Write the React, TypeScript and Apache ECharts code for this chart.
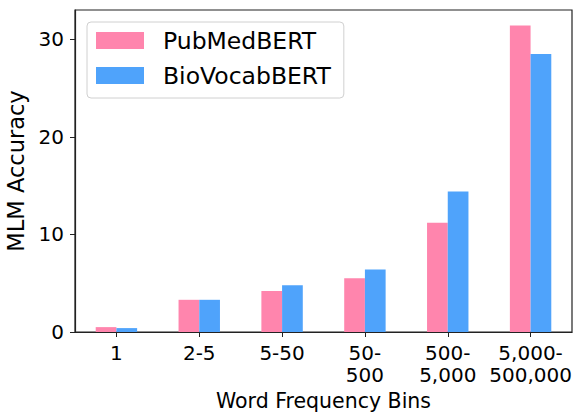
import React, { useEffect, useRef } from "react";
import * as echarts from "echarts";

const categories = ["1", "2-5", "5-50", "50-\n500", "500-\n5,000", "5,000-\n500,000"];
const pubMedBERT = [0.5, 3.3, 4.2, 5.5, 11.2, 31.4];
const bioVocabBERT = [0.4, 3.3, 4.8, 6.4, 14.4, 28.5];
const yTicks = [0, 10, 20, 30];

const FONT = "DejaVu Sans";

export default function App() {
  const ref = useRef<HTMLDivElement>(null);
  useEffect(() => {
    if (!ref.current) return;
    const chart = echarts.init(ref.current, null, { renderer: "svg" });
    chart.setOption({
      animation: false,
      textStyle: { fontFamily: FONT },
      grid: {
        left: 75,
        right: 4,
        top: 10,
        bottom: 80,
        outerBoundsMode: "none",
        containLabel: false,
        show: true,
        borderColor: "#222",
        borderWidth: 1.2,
        backgroundColor: "transparent",
      },
      legend: {
        orient: "vertical",
        left: 87,
        top: 22,
        padding: [6.5, 13, 10.5, 9],
        itemWidth: 48,
        itemHeight: 17,
        itemGap: 11,
        borderColor: "#d0d0d0",
        borderWidth: 1,
        borderRadius: 4,
        backgroundColor: "#fff",
        icon: "rect",
        textStyle: {
          fontFamily: FONT,
          fontSize: 23.5,
          lineHeight: 24,
          color: "#000",
          padding: [0, 0, 0, 14],
        },
        data: ["PubMedBERT", "BioVocabBERT"],
      },
      xAxis: {
        type: "category",
        data: categories,
        name: "Word Frequency Bins",
        nameLocation: "middle",
        nameGap: 58,
        nameTextStyle: { fontFamily: FONT, fontSize: 20.5, color: "#000" },
        axisLine: { show: true, lineStyle: { color: "#222", width: 1.2 } },
        axisTick: { show: true, alignWithLabel: true, length: 5, lineStyle: { color: "#222" } },
        axisLabel: {
          fontFamily: FONT,
          fontSize: 20,
          color: "#000",
          margin: 10,
          lineHeight: 22,
          interval: 0,
        },
      },
      yAxis: {
        type: "value",
        min: 0,
        max: 33,
        interval: 10,
        name: "MLM Accuracy",
        nameLocation: "middle",
        nameGap: 43,
        nameTextStyle: { fontFamily: FONT, fontSize: 22.5, color: "#000" },
        axisLine: { show: true, lineStyle: { color: "#222", width: 1.2 } },
        axisTick: { show: true, length: 5, lineStyle: { color: "#222" }, customValues: yTicks },
        axisLabel: {
          fontFamily: FONT,
          fontSize: 20,
          color: "#000",
          margin: 11,
          customValues: yTicks,
        },
        splitLine: { show: false },
      },
      series: [
        {
          name: "PubMedBERT",
          type: "bar",
          data: pubMedBERT,
          barWidth: "25%",
          barGap: "0%",
          itemStyle: { color: "#ff85ad" },
        },
        {
          name: "BioVocabBERT",
          type: "bar",
          data: bioVocabBERT,
          barWidth: "25%",
          barGap: "0%",
          itemStyle: { color: "#4fa3fb" },
        },
      ],
    });
    return () => chart.dispose();
  }, []);
  return <div ref={ref} style={{ width: 576, height: 412, position: "absolute", left: 0, top: 0 }} />;
}
